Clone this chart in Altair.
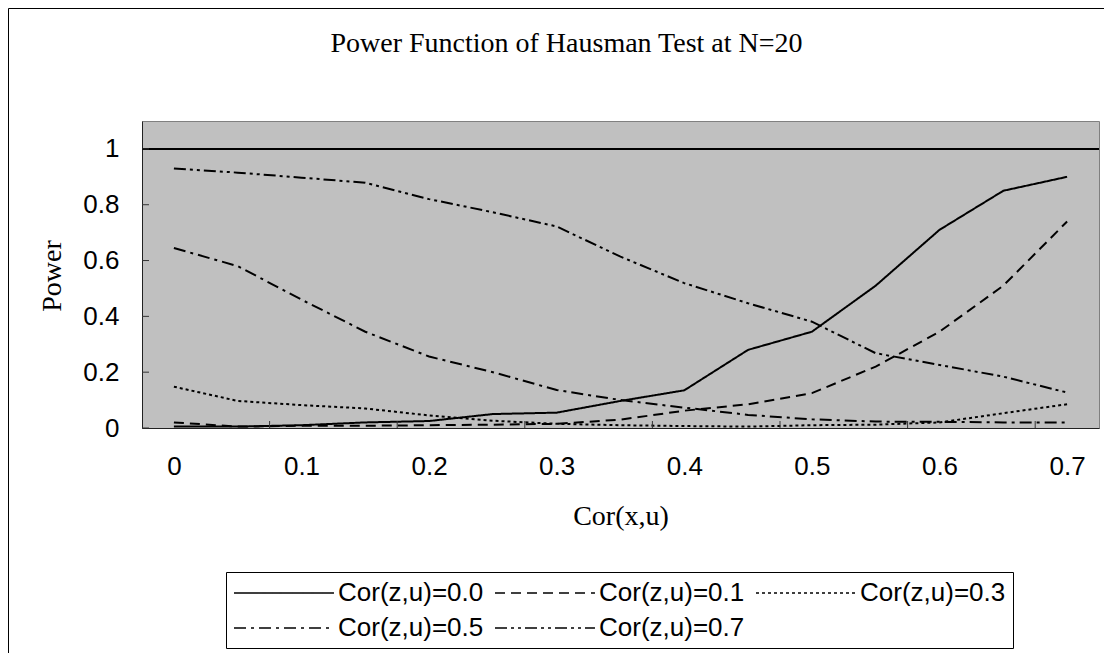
import altair as alt
import pandas as pd

# ---- data ----
cor_xu = [0.0, 0.05, 0.1, 0.15, 0.2, 0.25, 0.3, 0.35, 0.4, 0.45, 0.5, 0.55, 0.6, 0.65, 0.7]
series_names = ["Cor(z,u)=0.0", "Cor(z,u)=0.1", "Cor(z,u)=0.3", "Cor(z,u)=0.5", "Cor(z,u)=0.7"]
p00 = [0.005, 0.005, 0.01, 0.02, 0.025, 0.05, 0.055, 0.097, 0.135, 0.28, 0.345, 0.51, 0.71, 0.85, 0.9]
p01 = [0.02, 0.005, 0.008, 0.008, 0.01, 0.012, 0.015, 0.03, 0.062, 0.085, 0.125, 0.22, 0.345, 0.51, 0.74]
p03 = [0.148, 0.097, 0.082, 0.07, 0.045, 0.026, 0.015, 0.01, 0.007, 0.005, 0.01, 0.012, 0.02, 0.053, 0.085]
p05 = [0.645, 0.58, 0.46, 0.345, 0.256, 0.2, 0.136, 0.1, 0.073, 0.047, 0.031, 0.023, 0.022, 0.02, 0.02]
p07 = [0.93, 0.915, 0.897, 0.879, 0.82, 0.773, 0.722, 0.614, 0.519, 0.447, 0.381, 0.268, 0.226, 0.184, 0.127]
x_tick_labels = [0.0, 0.1, 0.2, 0.3, 0.4, 0.5, 0.6, 0.7]
x_tick_marks = [0.075, 0.175, 0.275, 0.375, 0.475, 0.575, 0.675]
y_ticks = [0.0, 0.2, 0.4, 0.6, 0.8, 1.0]
ref_level = 1.0
title_text = "Power Function of Hausman Test at N=20"

rows = []
for name, vals in zip(series_names, [p00, p01, p03, p05, p07]):
    for x, v in zip(cor_xu, vals):
        rows.append({"x": x, "power": v, "series": name})
df = pd.DataFrame(rows)

W, H = 957, 307
dashes = [[1, 0], [10, 6], [3, 3], [12, 5, 3, 5], [12, 4, 3, 4, 3, 4]]

xscale = alt.Scale(domain=[-0.025, 0.725], nice=False, zero=False)
yscale = alt.Scale(domain=[0, 1.1], nice=False)

lines = alt.Chart(df).mark_line(color="black", strokeWidth=2).encode(
    x=alt.X("x:Q", scale=xscale,
            axis=alt.Axis(values=x_tick_labels, format="~g", title="Cor(x,u)",
                          ticks=False, grid=False, labelPadding=25,
                          titleX=W / 2, titleY=88, titleBaseline="middle")),
    y=alt.Y("power:Q", scale=yscale,
            axis=alt.Axis(values=y_ticks, format="~g", title="Power",
                          ticks=False, grid=False, labelPadding=23,
                          titleX=-90, titleY=H / 2 + 1, titleAngle=270,
                          titleBaseline="middle", titleAlign="center")),
    strokeDash=alt.StrokeDash("series:N", scale=alt.Scale(domain=series_names, range=dashes),
                              sort=series_names,
                              legend=alt.Legend(title=None, orient="none", legendX=84, legendY=451,
                                                direction="horizontal", columns=3,
                                                symbolType="M-1,0L6.69,0", symbolSize=676,
                                                symbolStrokeWidth=1.5, symbolStrokeColor="black",
                                                symbolFillColor="transparent",
                                                labelFont="Liberation Sans", labelFontSize=26,
                                                labelColor="black", labelOffset=77,
                                                padding=7, rowPadding=8, columnPadding=8,
                                                strokeColor="black", fillColor="white")),
    order="x:Q",
)

ref_rule = alt.Chart(pd.DataFrame({"v": [ref_level]})).mark_rule(color="black", strokeWidth=2).encode(
    y=alt.Y("v:Q", scale=yscale)
)

xt = alt.Chart(pd.DataFrame({"t": x_tick_marks})).mark_rule(color="#333333", strokeWidth=1).encode(
    x=alt.X("t:Q", scale=xscale), y=alt.value(H), y2=alt.value(H - 7)
)
yt = alt.Chart(pd.DataFrame({"t": y_ticks})).mark_rule(color="#333333", strokeWidth=1).encode(
    y=alt.Y("t:Q", scale=yscale), x=alt.value(0), x2=alt.value(7)
)

frame = alt.Chart(pd.DataFrame({"f": [0]})).mark_rect(fill=None, stroke="black", strokeWidth=1).encode(
    x=alt.value(-133.5), x2=alt.value(W + 60), y=alt.value(-112.5), y2=alt.value(H + 300)
)

title = alt.Chart(pd.DataFrame({"t": [title_text]})).mark_text(
    font="Liberation Serif", fontSize=28, color="black", align="center", baseline="alphabetic"
).encode(text="t:N", x=alt.value(W / 2 - 54), y=alt.value(-69))

chart = alt.layer(frame, title, ref_rule, lines, xt, yt).properties(
    width=W, height=H,
    background="white",
    autosize=alt.AutoSizeParams(type="none"),
    padding={"left": 134, "top": 113, "right": 5, "bottom": 225},
).configure_view(
    fill="#C0C0C0", stroke="#808080", strokeWidth=1
).configure_axis(
    labelFont="Liberation Sans", labelFontSize=26, labelColor="black",
    titleFont="Liberation Serif", titleFontSize=28, titleFontWeight="normal", titleColor="black",
    domainColor="#222222", domainWidth=1,
)

chart.save("out.html", embed_options={"renderer": "svg", "actions": False})
